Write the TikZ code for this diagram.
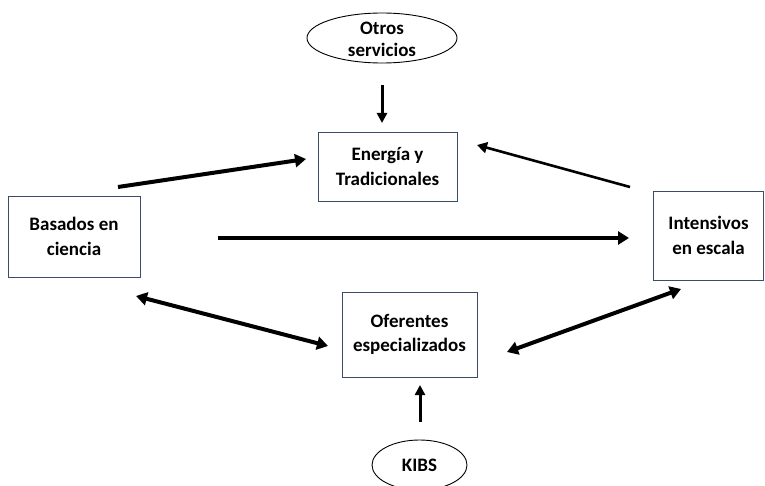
\documentclass[tikz,border=0pt]{standalone}
\usepackage{fontspec}
\setmainfont{Carlito}
\usetikzlibrary{shapes.geometric,arrows.meta}
\definecolor{boxcol}{RGB}{60,75,105}
\tikzset{
  box/.style={draw=boxcol, line width=0.9pt, fill=white, align=center,
    font=\fontsize{19}{24.5}\selectfont\bfseries, inner sep=0pt},
  oval/.style={ellipse, draw=black, line width=0.9pt, align=center,
    font=\fontsize{19}{22}\selectfont\bfseries, inner sep=0pt},
  thick arrow/.style={line width=4pt, -{Triangle[length=11pt,width=13pt]}},
  thick darrow/.style={line width=4pt, {Triangle[length=11pt,width=13pt]}-{Triangle[length=11pt,width=13pt]}},
  thin arrow/.style={line width=2.6pt, -{Triangle[length=10pt,width=11pt]}},
  vert arrow/.style={line width=3pt, -{Triangle[length=10pt,width=10pt]}}
}
\begin{document}
\begin{tikzpicture}[x=1pt,y=-1pt]
\useasboundingbox (0,0) rectangle (765,486);
% boxes
\node[box, minimum width=132pt, minimum height=81pt] (basados) at (74,236.5) {Basados en\\ciencia};
\node[box, minimum width=139pt, minimum height=69pt] (energia) at (387.5,166.5) {Energía y\\Tradicionales};
\node[box, minimum width=110pt, minimum height=89pt] (intensivos) at (708.5,235.5) {Intensivos\\en escala};
\node[box, minimum width=135pt, minimum height=85pt] (oferentes) at (409.5,334.5) {Oferentes\\especializados};
% ellipses
\node[oval, minimum width=150pt, minimum height=50pt] (otros) at (382,38)
  {\raisebox{-7pt}[0pt][0pt]{\begin{tabular}{@{}c@{}}Otros\\servicios\end{tabular}}};
\node[oval, minimum width=95pt, minimum height=50pt] (kibs) at (419.5,465) {KIBS};
% coordinates for free arrow ends
\coordinate (t1) at (382,85);
\coordinate (t2) at (382,123);
\coordinate (k1) at (420,422);
\coordinate (k2) at (420,385);
\coordinate (b1) at (118,187);
\coordinate (e1) at (306,159);
\coordinate (i1) at (630,187);
\coordinate (e2) at (477,145);
\coordinate (b2) at (218,238);
\coordinate (i2) at (629,238);
\coordinate (b3) at (136,296);
\coordinate (o1) at (328,346);
\coordinate (o2) at (507,352);
\coordinate (i3) at (681,289);
% arrows
\draw[vert arrow] (t1) -- (t2);
\draw[vert arrow] (k1) -- (k2);
\draw[thick arrow] (b1) -- (e1);
\draw[thin arrow] (i1) -- (e2);
\draw[thick arrow] (b2) -- (i2);
\draw[thick darrow] (b3) -- (o1);
\draw[thick darrow] (o2) -- (i3);
\end{tikzpicture}
\end{document}
